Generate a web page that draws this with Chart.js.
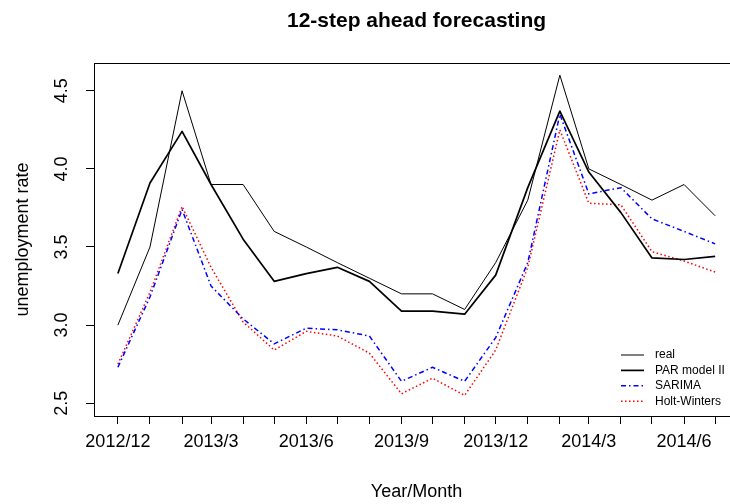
<!DOCTYPE html>
<html>
<head>
<meta charset="utf-8">
<title>12-step ahead forecasting</title>
<script src="https://cdn.jsdelivr.net/npm/chart.js"></script>
<style>
  html, body { margin: 0; padding: 0; background: #fff; overflow: hidden; }
  #chart { display: block; }
</style>
</head>
<body>
<canvas id="chart" width="750" height="504"></canvas>
<script>
// Meses de la serie (primer día de cada mes)
const months = ["2012/12", "2013/1", "2013/2", "2013/3", "2013/4", "2013/5", "2013/6",
  "2013/7", "2013/8", "2013/9", "2013/10", "2013/11", "2013/12", "2014/1",
  "2014/2", "2014/3", "2014/4", "2014/5", "2014/6", "2014/7"];

// Meses que llevan etiqueta en el eje X
const tickLabels = ["2012/12", "2013/3", "2013/6", "2013/9", "2013/12", "2014/3", "2014/6"];
const yTicks = [2.5, 3.0, 3.5, 4.0, 4.5];

// Tasa de paro real y predicciones
const real   = [3.0, 3.5, 4.5, 3.9, 3.9, 3.6, 3.5, 3.4, 3.3, 3.2, 3.2, 3.1, 3.4, 3.8, 4.6, 4.0, 3.9, 3.8, 3.9, 3.7];
const par    = [3.33, 3.91, 4.24, 3.90, 3.55, 3.28, 3.33, 3.37, 3.28, 3.09, 3.09, 3.07, 3.32, 3.88, 4.37, 3.98, 3.72, 3.43, 3.42, 3.44];
const sarima = [2.73, 3.18, 3.74, 3.25, 3.04, 2.88, 2.98, 2.97, 2.93, 2.64, 2.73, 2.64, 2.92, 3.40, 4.35, 3.84, 3.88, 3.68, 3.60, 3.52];
const hw     = [2.75, 3.21, 3.76, 3.37, 3.02, 2.84, 2.96, 2.93, 2.82, 2.56, 2.66, 2.55, 2.84, 3.37, 4.25, 3.78, 3.77, 3.47, 3.41, 3.34];

// Días desde el primer mes, para espaciar según el calendario
const DAY = 86400000;
const toDays = m => {
  const [y, mo] = m.split("/").map(Number);
  return (Date.UTC(y, mo - 1, 1) - Date.UTC(2012, 11, 1)) / DAY;
};
const days = months.map(toDays);
const span = days[days.length - 1] - days[0];

const series = values => values.map((v, i) => ({ x: days[i], y: v }));

Chart.defaults.font.family = "'Liberation Sans', Arial, Helvetica, sans-serif";
Chart.defaults.color = "#000";

// Marco del gráfico y leyenda estilo R
const framePlugin = {
  id: "frame",
  afterDraw(chart, args, opts) {
    const { ctx, chartArea: a } = chart;
    ctx.save();
    ctx.strokeStyle = "#000";
    ctx.lineWidth = 1;
    ctx.setLineDash([]);
    ctx.strokeRect(a.left + 0.5, a.top + 0.5, a.right - a.left, a.bottom - a.top);

    ctx.font = "12px 'Liberation Sans', Arial, sans-serif";
    ctx.textBaseline = "middle";
    ctx.textAlign = "left";
    chart.data.datasets.forEach((ds, i) => {
      const y = opts.y + i * opts.step;
      ctx.beginPath();
      ctx.strokeStyle = ds.borderColor;
      ctx.lineWidth = ds.borderWidth;
      ctx.setLineDash(ds.borderDash || []);
      ctx.moveTo(opts.x0, y);
      ctx.lineTo(opts.x1, y);
      ctx.stroke();
      ctx.fillStyle = "#000";
      ctx.fillText(ds.label, opts.textX, y);
    });
    ctx.restore();
  }
};

new Chart(document.getElementById("chart"), {
  type: "line",
  data: {
    datasets: [
      { label: "real", data: series(real), borderColor: "#000", borderWidth: 1 },
      { label: "PAR model II", data: series(par), borderColor: "#000", borderWidth: 1.7 },
      { label: "SARIMA", data: series(sarima), borderColor: "#0000ff", borderWidth: 1.5, borderDash: [5, 3, 1.5, 3] },
      { label: "Holt-Winters", data: series(hw), borderColor: "#ff0000", borderWidth: 1.5, borderDash: [1.5, 2.5] }
    ].map(ds => ({ ...ds, pointRadius: 0, tension: 0, fill: false, borderJoinStyle: "round" }))
  },
  options: {
    responsive: false,
    animation: false,
    events: [],
    layout: { padding: { left: 0, right: 11, top: 0, bottom: 0 } },
    scales: {
      x: {
        type: "linear",
        min: days[0] - span * 0.04,
        max: days[days.length - 1] + span * 0.04,
        afterBuildTicks: scale => { scale.ticks = days.map(v => ({ value: v })); },
        afterFit: scale => { scale.height = 88; },
        ticks: {
          autoSkip: false,
          minRotation: 0,
          maxRotation: 0,
          padding: 7,
          font: { size: 18 },
          color: "#000",
          callback: v => {
            const m = months[days.indexOf(v)];
            return tickLabels.includes(m) ? m : "";
          }
        },
        grid: { drawOnChartArea: false, drawTicks: true, tickLength: 8, tickColor: "#000", tickWidth: 1 },
        border: { display: true, color: "#000", width: 1 },
        title: { display: true, text: "Year/Month", font: { size: 18 }, color: "#000", padding: { top: 0, bottom: 1 } }
      },
      y: {
        type: "linear",
        min: 2.418,
        max: 4.678,
        afterBuildTicks: scale => { scale.ticks = yTicks.map(v => ({ value: v })); },
        afterFit: scale => { scale.width = 94; },
        ticks: {
          minRotation: 90,
          maxRotation: 90,
          crossAlign: "center",
          padding: 11,
          font: { size: 18 },
          color: "#000",
          callback: v => v.toFixed(1)
        },
        grid: { drawOnChartArea: false, drawTicks: true, tickLength: 8, tickColor: "#000", tickWidth: 1 },
        border: { display: true, color: "#000", width: 1 },
        title: { display: true, text: "unemployment rate", font: { size: 18 }, color: "#000", padding: { top: 12, bottom: 0 } }
      }
    },
    plugins: {
      legend: { display: false },
      tooltip: { enabled: false },
      title: {
        display: true,
        fullSize: false,
        text: "12-step ahead forecasting",
        color: "#000",
        font: { size: 21, weight: "bold", lineHeight: 1.2 },
        padding: { top: 8.4, bottom: 29.4 }
      },
      frame: { x0: 621, x1: 644, textX: 655, y: 355, step: 15.4 }
    }
  },
  plugins: [framePlugin]
});
</script>
</body>
</html>
